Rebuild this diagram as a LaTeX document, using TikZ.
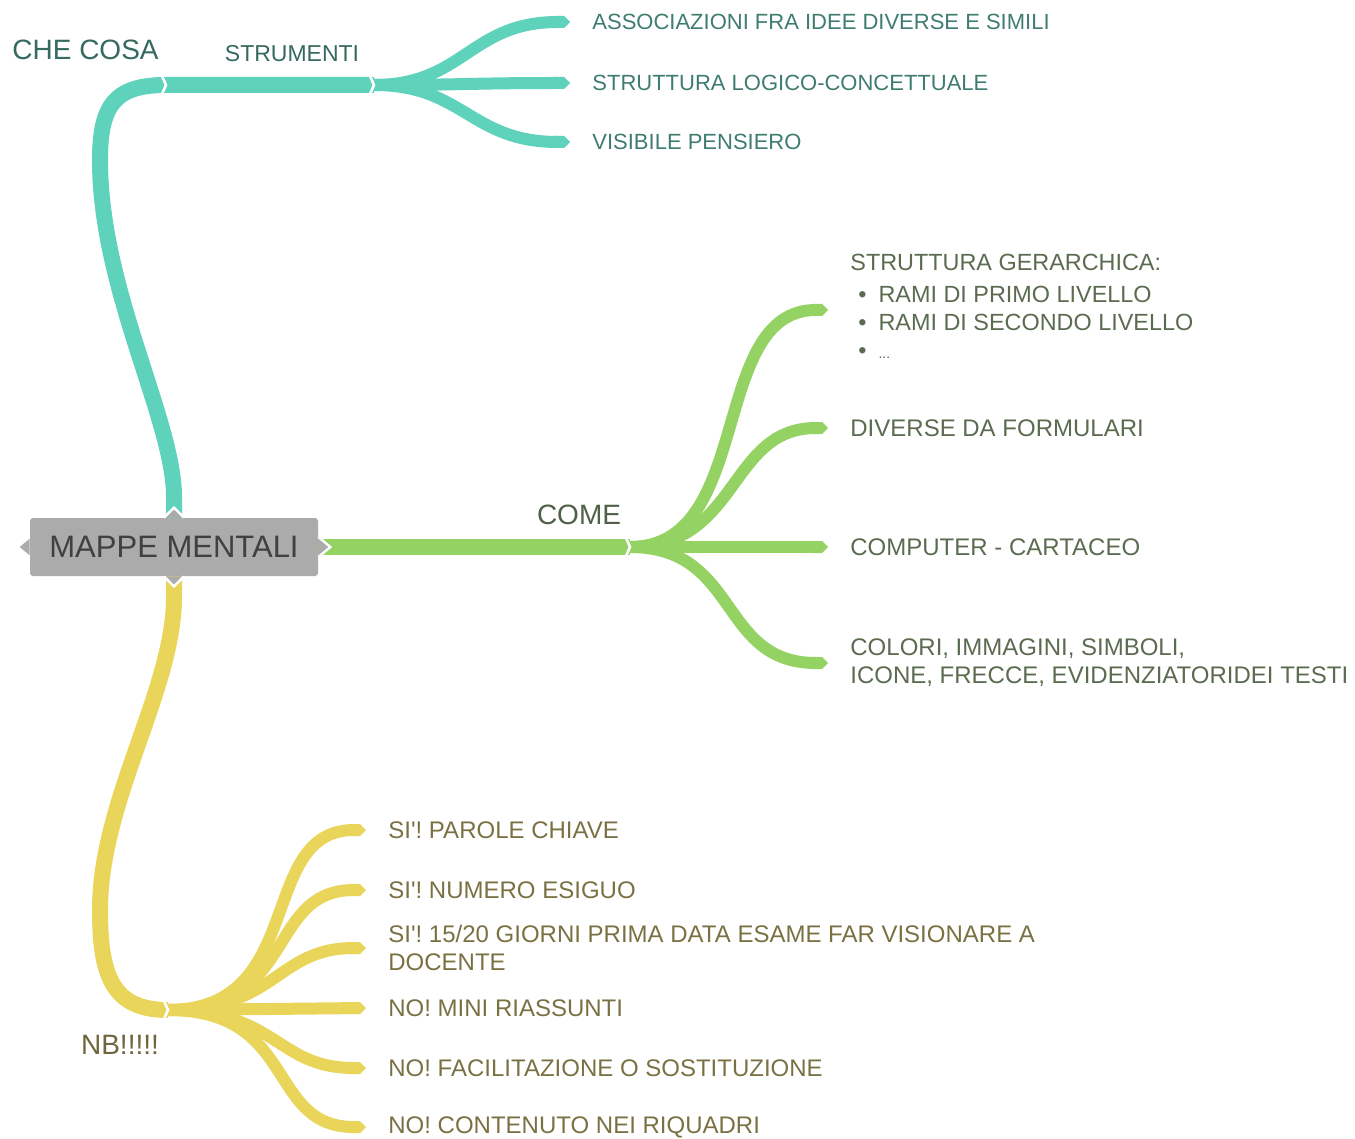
\documentclass[tikz,border=0pt]{standalone}
\usepackage{fontspec}
\setmainfont{Liberation Sans}
\usetikzlibrary{arrows.meta,positioning,backgrounds}
\definecolor{tealbr}{HTML}{5ED2BB}
\definecolor{greenbr}{HTML}{94D363}
\definecolor{yellowbr}{HTML}{E9D55A}
\definecolor{hubgray}{HTML}{ABABAB}
\definecolor{tealtxt}{HTML}{3F7C70}
\definecolor{greentxt}{HTML}{5A6B50}
\definecolor{yellowtxt}{HTML}{7A7143}
% white chevron cut between two pieces of a branch
\newcommand{\chev}[1]{\draw[white,line width=1.3pt] ([shift={(-4,-9)}]#1) -- (#1) -- ([shift={(-4,9)}]#1);}

\tikzset{
  trunk/.style={line width=8pt},
  twig/.style={line width=6pt,-{Triangle Cap[]}},
  leaf/.style={anchor=west,inner sep=0pt,font=\fontsize{#1}{14}\selectfont,align=left},
  leaf/.default=11,
  lbl/.style={inner sep=0pt,font=\fontsize{14}{16}\selectfont},
  hub/.style={fill=hubgray,rounded corners=1.5pt,minimum width=144pt,minimum height=29pt,
    inner sep=0pt,font=\fontsize{15.5}{18}\selectfont,text=black!75},
}

\begin{document}
\begin{tikzpicture}[x=0.5pt,y=-0.5pt]
  \useasboundingbox (0,0) rectangle (1355,1139);

  % central topic
  \node[hub] (hub) at (174,547) {MAPPE MENTALI};
  \foreach \s/\tx/\ty/\px/\py in {north/0/-10/10/0, south/0/10/10/0, east/12/0/0/10, west/-12/0/0/10}{
    \fill[hubgray] ([shift={(\px,\py)}]hub.\s) -- ([shift={(\tx,\ty)}]hub.\s) -- ([shift={(-\px,-\py)}]hub.\s) -- cycle;
    \draw[white,line width=1.2pt] ([shift={(\px,\py)}]hub.\s) -- ([shift={(\tx,\ty)}]hub.\s) -- ([shift={(-\px,-\py)}]hub.\s);
  }

  % junctions and twig ends
  \coordinate (t1) at (166,85);
  \coordinate (tj) at (374,85);
  \coordinate (tA) at (570,22);
  \coordinate (tB) at (570,83);
  \coordinate (tC) at (570,142);
  \coordinate (gj) at (630,547);
  \coordinate (gA) at (828,310);
  \coordinate (gB) at (828,428);
  \coordinate (gC) at (828,547);
  \coordinate (gD) at (828,663);
  \coordinate (yj) at (168,1010);
  \coordinate (yA) at (366,830);
  \coordinate (yB) at (366,890);
  \coordinate (yC) at (366,948);
  \coordinate (yD) at (366,1008);
  \coordinate (yE) at (366,1068);
  \coordinate (yF) at (366,1127);

  % labels on the branches
  \node[lbl,anchor=west,text=tealtxt!85!black] (whatlbl) at (12,50) {CHE COSA};
  \node[lbl,font=\fontsize{11.5}{14}\selectfont,text=tealtxt!85!black] (toollbl) at (292,54) {STRUMENTI};
  \node[lbl,text=greentxt!90!black] (howlbl) at (579,515) {COME};
  \node[lbl,text=yellowtxt!90!black] (nblbl) at (120,1045) {NB!!!!!};

  % leaves
  \begin{scope}[text=tealtxt]
    \node[leaf,right=11pt of tA] (assoc) {ASSOCIAZIONI FRA IDEE DIVERSE E SIMILI};
    \node[leaf,right=11pt of tB] (logic) {STRUTTURA LOGICO-CONCETTUALE};
    \node[leaf,right=11pt of tC] (visib) {VISIBILE PENSIERO};
  \end{scope}
  \begin{scope}[text=greentxt]
    \node[leaf=11.7,right=11pt of gA,yshift=2pt] (gerar) {STRUTTURA GERARCHICA:\\[2pt]
      \hspace*{4pt}\textbullet\hspace{6pt}RAMI DI PRIMO LIVELLO\\
      \hspace*{4pt}\textbullet\hspace{6pt}RAMI DI SECONDO LIVELLO\\
      \hspace*{4pt}\textbullet\hspace{6pt}{\fontsize{7}{8}\selectfont ...}};
    \node[leaf=12,right=11pt of gB] (formul) {DIVERSE DA FORMULARI};
    \node[leaf=12,right=11pt of gC] (carta) {COMPUTER - CARTACEO};
    \node[leaf=12,right=11pt of gD] (color) {COLORI, IMMAGINI, SIMBOLI,\\ICONE, FRECCE, EVIDENZIATORIDEI TESTI};
  \end{scope}
  \begin{scope}[text=yellowtxt]
    \node[leaf=12,right=11pt of yA] (chiave) {SI\textquotesingle! PAROLE CHIAVE};
    \node[leaf=12,right=11pt of yB] (esiguo) {SI\textquotesingle! NUMERO ESIGUO};
    \node[leaf=12,right=11pt of yC] (giorni) {SI\textquotesingle! 15/20 GIORNI PRIMA DATA ESAME FAR VISIONARE A\\DOCENTE};
    \node[leaf=12,right=11pt of yD] (riass) {NO! MINI RIASSUNTI};
    \node[leaf=12,right=11pt of yE] (facil) {NO! FACILITAZIONE O SOSTITUZIONE};
    \node[leaf=12,right=11pt of yF] (riqua) {NO! CONTENUTO NEI RIQUADRI};
  \end{scope}

  \begin{scope}[on background layer]
    % che cosa / strumenti
    \draw[trunk,tealbr] (hub.center) -- ++(0,-50) .. controls (174,420) and (100,290) .. (100,160)
      .. controls (100,105) and (115,85) .. (t1) -- (tj);
    \draw[twig,tealbr] (tj) .. controls +(90,0) and +(-100,0) .. (tA);
    \draw[twig,tealbr] (tj) .. controls +(90,0) and +(-100,0) .. (tB);
    \draw[twig,tealbr] (tj) .. controls +(90,0) and +(-100,0) .. (tC);
    % come
    \draw[trunk,greenbr] (hub.center) -- (gj);
    \draw[twig,greenbr] (gj) .. controls +(125,0) and +(-120,0) .. (gA);
    \draw[twig,greenbr] (gj) .. controls +(110,0) and +(-100,0) .. (gB);
    \draw[twig,greenbr] (gj) -- (gC);
    \draw[twig,greenbr] (gj) .. controls +(110,0) and +(-110,0) .. (gD);
    % nb
    \draw[trunk,yellowbr] (hub.center) -- ++(0,50) .. controls (174,690) and (100,800) .. (100,910)
      .. controls (100,975) and (112,1010) .. (yj);
    \draw[twig,yellowbr] (yj) .. controls +(140,0) and +(-110,0) .. (yA);
    \draw[twig,yellowbr] (yj) .. controls +(130,0) and +(-100,0) .. (yB);
    \draw[twig,yellowbr] (yj) .. controls +(110,0) and +(-90,0) .. (yC);
    \draw[twig,yellowbr] (yj) -- (yD);
    \draw[twig,yellowbr] (yj) .. controls +(110,0) and +(-90,0) .. (yE);
    \draw[twig,yellowbr] (yj) .. controls +(130,0) and +(-100,0) .. (yF);
    \chev{t1}
    \chev{tj}
    \chev{gj}
    \chev{yj}
  \end{scope}
\end{tikzpicture}
\end{document}
